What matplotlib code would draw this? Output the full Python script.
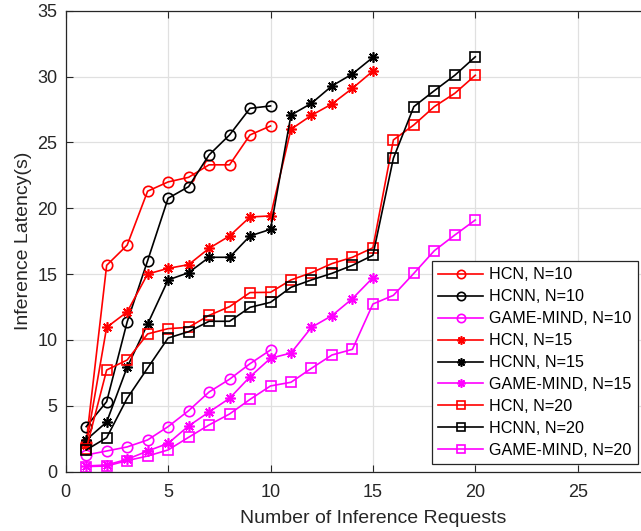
import numpy as np
import matplotlib
matplotlib.use('Agg')
import matplotlib.pyplot as plt

plt.rcParams['font.family'] = ['Liberation Sans', 'DejaVu Sans']

# number of requests
n10 = np.arange(1, 11)
n15 = np.arange(1, 16)
n20 = np.arange(1, 21)

# latency (s), N = 10
hcn_10 = [2.2, 15.67, 17.2, 21.3, 22.0, 22.35, 23.3, 23.3, 25.57, 26.25]
hcnn_10 = [3.42, 5.32, 11.37, 16.02, 20.76, 21.64, 24.05, 25.57, 27.59, 27.77]
gm_10 = [1.27, 1.57, 1.88, 2.41, 3.42, 4.63, 6.05, 7.02, 8.2, 9.24]

# latency (s), N = 15
hcn_15 = [2.0, 10.96, 12.13, 15.01, 15.44, 15.72, 16.96, 17.9, 19.34, 19.42,
          26.0, 27.06, 27.92, 29.11, 30.42]
hcnn_15 = [2.41, 3.77, 7.93, 11.21, 14.56, 15.11, 16.28, 16.28, 17.9, 18.4,
           27.08, 27.97, 29.29, 30.2, 31.46]
gm_15 = [0.43, 0.51, 0.94, 1.57, 2.15, 3.47, 4.53, 5.57, 7.21, 8.61,
         9.01, 10.96, 11.85, 13.14, 14.73]

# latency (s), N = 20
hcn_20 = [1.7, 7.72, 8.48, 10.46, 10.86, 10.96, 11.87, 12.53, 13.6, 13.62,
          14.56, 15.11, 15.8, 16.28, 17.0, 25.19, 26.33, 27.72, 28.73, 30.1]
hcnn_20 = [1.65, 2.58, 5.57, 7.87, 10.15, 10.63, 11.42, 11.42, 12.48, 12.86,
           14.0, 14.56, 15.06, 15.67, 16.43, 23.8, 27.72, 28.93, 30.1, 31.5]
gm_20 = [0.39, 0.43, 0.84, 1.19, 1.65, 2.61, 3.55, 4.38, 5.49, 6.51,
         6.79, 7.85, 8.86, 9.29, 12.73, 13.39, 15.06, 16.78, 17.97, 19.11]

red, black, mag = '#ff0000', '#000000', '#ff00ff'
star = (8, 2, 0)
series = [
    (n10, hcn_10, red, 'o', 'HCN, N=10'),
    (n10, hcnn_10, black, 'o', 'HCNN, N=10'),
    (n10, gm_10, mag, 'o', 'GAME-MIND, N=10'),
    (n15, hcn_15, red, star, 'HCN, N=15'),
    (n15, hcnn_15, black, star, 'HCNN, N=15'),
    (n15, gm_15, mag, star, 'GAME-MIND, N=15'),
    (n20, hcn_20, red, 's', 'HCN, N=20'),
    (n20, hcnn_20, black, 's', 'HCNN, N=20'),
    (n20, gm_20, mag, 's', 'GAME-MIND, N=20'),
]

fig = plt.figure(figsize=(6.41, 5.31), dpi=100)
ax = fig.add_axes([0.1025, 0.1117, 0.9585, 0.8681])

for x, y, c, m, lab in series:
    ax.plot(x, y, color=c, marker=m, lw=1.2, ms=7.5, mew=1.2,
            mfc='none', label=lab)

ax.set_xlim(0, 30)
ax.set_ylim(0, 35)
ax.set_xticks(np.arange(0, 26, 5))
ax.set_yticks(np.arange(0, 36, 5))
ax.grid(True, color='#e0e0e0', lw=0.9)
ax.set_axisbelow(True)
ax.tick_params(direction='in', length=5, labelsize=13, colors='#262626',
               top=True, right=True)
ax.tick_params(axis='x', pad=9)
ax.tick_params(axis='y', pad=6)
for s in ax.spines.values():
    s.set_color('#262626')
    s.set_linewidth(0.9)

ax.set_xlabel('Number of Inference Requests', fontsize=14, color='#262626',
              labelpad=6)
ax.set_ylabel('Inference Latency(s)', fontsize=14, color='#262626')

leg = ax.legend(loc='lower right', bbox_to_anchor=(0.995, 0.1256),
                bbox_transform=fig.transFigure, borderaxespad=0,
                fontsize=11.6, fancybox=False, framealpha=1,
                edgecolor='#262626', handlelength=2.8, handletextpad=0.35,
                labelspacing=0.43, borderpad=0.4, markerscale=0.8)
leg.get_frame().set_linewidth(0.9)

fig.savefig('out.png', dpi=100)
